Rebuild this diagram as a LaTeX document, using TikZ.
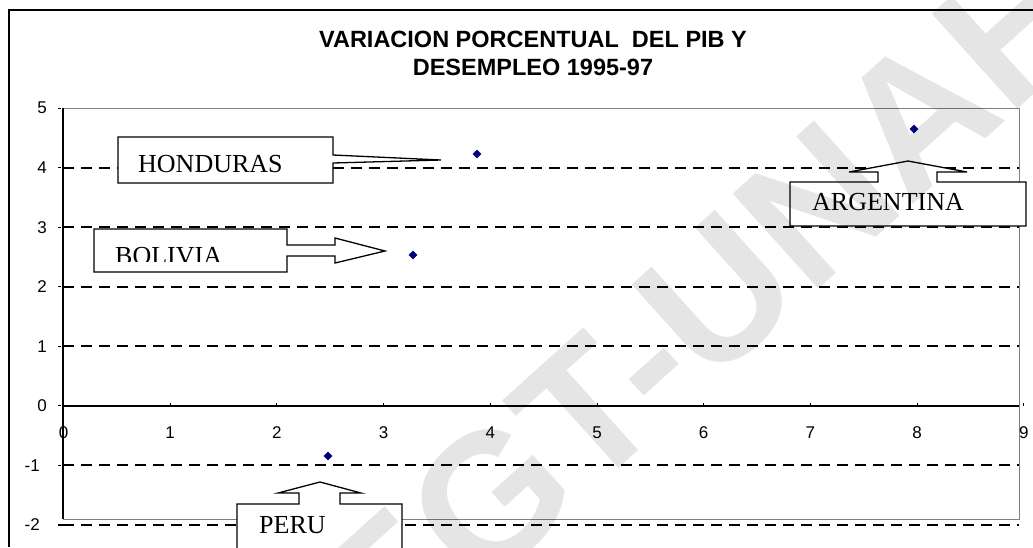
\documentclass[tikz,border=0pt]{standalone}
\usepackage{fontspec}
\setmainfont{Liberation Sans}
\newfontfamily\romanfont{Liberation Serif}
\usepackage{tikz}
\usetikzlibrary{shapes.geometric}
\definecolor{azul}{RGB}{0,0,128}
\tikzset{grid line/.style={dash pattern=on 11pt off 7pt, line width=1.6pt},
    dato/.style={diamond,fill=azul,inner sep=0pt,minimum size=9pt},
    globo/.style={draw,fill=white,line width=1.3pt},
    rotulo/.style={font=\romanfont\fontsize{26}{26}\selectfont,anchor=base west,inner sep=0pt},
    escala/.style={font=\fontsize{17}{17}\selectfont,inner sep=0pt},
    x=1pt,y=-1pt}

\begin{document}
\begin{tikzpicture}
            \clip (0,0) rectangle (1033,547);
            \fill[white] (0,0) rectangle (1033,547);
            % marco
            \draw[line width=2pt] (9,547) -- (9,10) -- (1033,10);
            \node[font=\bfseries\fontsize{23.5}{28}\selectfont,align=center] (titulo) at (533,53)
                {VARIACION PORCENTUAL\ \ DEL PIB Y\\DESEMPLEO 1995-97};
            % area del grafico
            \draw[gray,line width=0.8pt] (63,108) rectangle (1019,519);
            \draw[grid line,gray,line width=1pt] (63,108) -- (1019,108);
            \foreach \v in {-2,...,4}
                \draw[grid line] (63,{405.7-59.5*\v}) -- (1019,{405.7-59.5*\v});
            \draw[grid line] (58,{405.7+59.5*2}) -- (63,{405.7+59.5*2});
            \foreach \v in {-2,...,5}
                \draw[line width=1pt] (58,{405.7-59.5*\v}) -- (61,{405.7-59.5*\v});
            \foreach \v in {0,...,5}
                \node[escala,anchor=east] (y\v) at (47,{405.7-59.5*\v}) {\v};
            \node[escala,anchor=east] (ym1) at (40,{405.7+59.5}) {-1};
            \node[escala,anchor=east] (ym2) at (40,{405.7+59.5*2}) {-2};
            % ejes
            \draw[line width=2pt] (63,405.7) -- (1019,405.7);
            \draw[line width=2pt] (63,108) -- (63,519);
            \foreach \u in {1,...,9}
                \draw[line width=1pt] ({63.5+106.7*\u},405.7) -- ({63.5+106.7*\u},402.7);
            \foreach \u in {0,...,9}
                \node[escala] (x\u) at ({63.5+106.7*\u},433) {\u};
            % datos
            \node[dato] (hon) at (477,154) {};
            \node[dato] (bol) at (413,255) {};
            \node[dato] (arg) at (914,129) {};
            \node[dato] (per) at (328,456) {};
            % globos
            \draw[globo] (118,137) -- (333,137) -- (333,155) -- (441,160) -- (333,163)
                -- (333,183) -- (118,183) -- cycle;
            \node[rotulo] (lblhon) at (138,172) {HONDURAS};
            \draw[globo] (94,229) -- (287,229) -- (287,245) -- (335,245) -- (335,238)
                -- (385,251) -- (335,263) -- (335,256) -- (287,256) -- (287,272)
                -- (94,272) -- cycle;
            \begin{scope}
                \clip (94,229) rectangle (287,261);
                \node[rotulo] (lblbol) at (115,264) {BOLIVIA};
            \end{scope}
            \draw[globo] (790,182) -- (878,182) -- (878,172) -- (849,172) -- (908,161)
                -- (967,172) -- (937,172) -- (937,182) -- (1026,182) -- (1026,226)
                -- (790,226) -- cycle;
            \node[rotulo] (lblarg) at (812,210) {ARGENTINA};
            \draw[globo] (237,560) -- (237,504) -- (299,504) -- (299,493) -- (278,493)
                -- (320,482) -- (361,493) -- (340,493) -- (340,504) -- (402,504)
                -- (402,560);
            \node[rotulo] (lblper) at (259,533) {PERU};
            % marca de agua
            \node[rotate=42,fill opacity=0.1,font=\bfseries\fontsize{186}{186}\selectfont]
                (marca) at (705,305) {EGT-UNAH};
        \end{tikzpicture}
\end{document}
